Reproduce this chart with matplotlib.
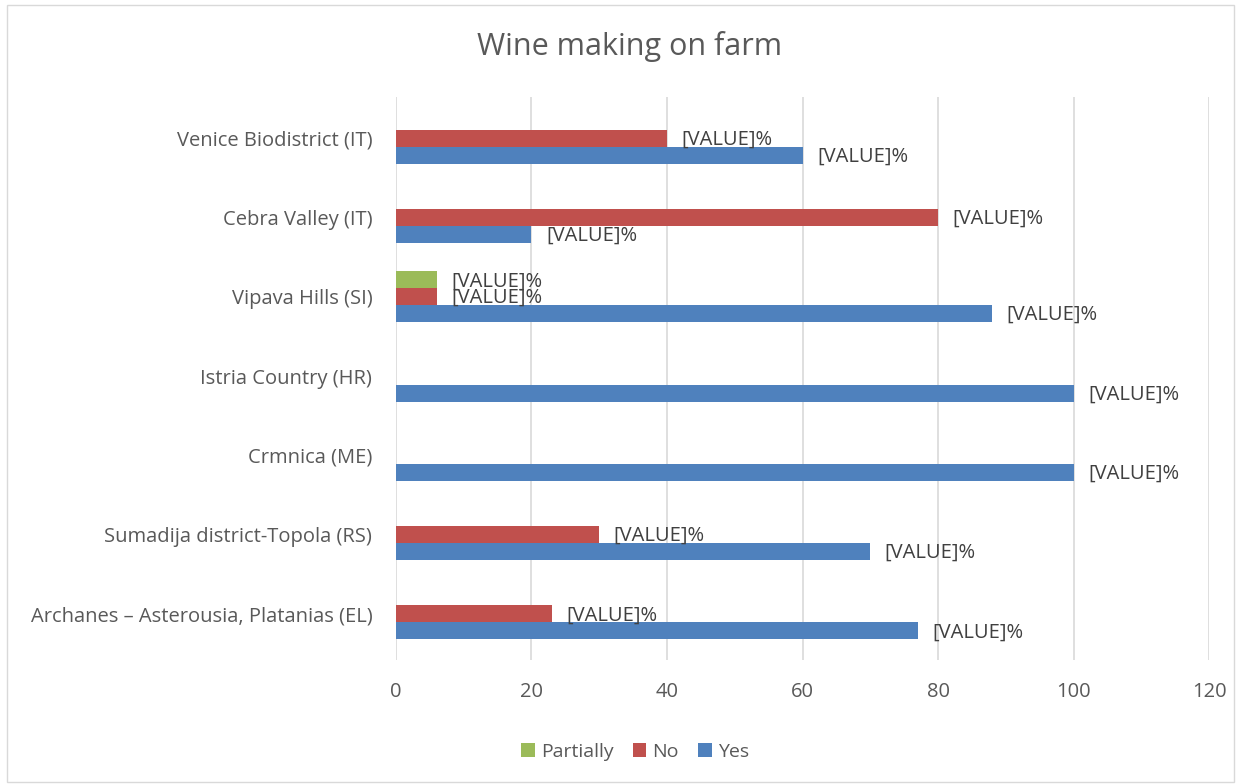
import matplotlib

matplotlib.use("Agg")
import matplotlib.pyplot as plt
import numpy as np
from matplotlib.patches import Rectangle

# data (bottom to top)
categories = [
    "Archanes – Asterousia, Platanias (EL)",
    "Sumadija district-Topola (RS)",
    "Crmnica (ME)",
    "Istria Country (HR)",
    "Vipava Hills (SI)",
    "Cebra Valley (IT)",
    "Venice Biodistrict (IT)",
]
yes_vals = [77, 70, 100, 100, 88, 20, 60]
no_vals = [23, 30, None, None, 6, 80, 40]
partially_vals = [None, None, None, None, 6, None, None]
x_ticks = [0, 20, 40, 60, 80, 100, 120]

plt.rcParams["font.family"] = ["Open Sans", "DejaVu Sans"]
text_col = "#595959"

fig = plt.figure(figsize=(12.39, 7.84), dpi=100)
ax = fig.add_axes([0.3196, 0.1582, 0.6562, 0.7181])

y = np.arange(len(categories))
h = 0.214
series = [
    ("Partially", partially_vals, "#9BBB59", h),
    ("No", no_vals, "#C0504D", 0.0),
    ("Yes", yes_vals, "#4F81BD", -h),
]
for name, vals, col, off in series:
    idx = [i for i, v in enumerate(vals) if v is not None]
    v = [vals[i] for i in idx]
    bars = ax.barh(y[idx] + off, v, height=h, color=col, label=name, zorder=3)
    for b, val in zip(bars, v):
        ax.annotate("[VALUE]%", (val, b.get_y() + b.get_height() / 2),
                    xytext=(10.5, -1), textcoords="offset points",
                    ha="left", va="center", fontsize=14.5, color="#404040", zorder=4)

ax.set_xlim(0, 120)
ax.set_ylim(-0.58, 6.52)
ax.set_xticks(x_ticks)
ax.set_yticks(y)
ax.set_yticklabels(categories)
ax.tick_params(axis="both", length=0, labelsize=14.5, colors=text_col)
ax.tick_params(axis="x", pad=16)
ax.tick_params(axis="y", pad=17)
ax.grid(axis="x", color="#D9D9D9", linewidth=1.2, zorder=0)
for s in ax.spines.values():
    s.set_visible(False)

fig.text(0.508, 1 - 47 / 784, "Wine making on farm", ha="center", va="center",
         fontsize=22, color=text_col)

ax.legend(loc="center", bbox_to_anchor=(0.294, -0.163), ncol=3, frameon=False,
          fontsize=14, labelcolor=text_col, handlelength=0.7, handleheight=0.7,
          columnspacing=1.0, handletextpad=0.3)

fig.patches.append(Rectangle((0.006, 0.003), 0.99, 0.99, transform=fig.transFigure,
                             fill=False, edgecolor="#D9D9D9", linewidth=1))

fig.savefig("out.png", dpi=100)
